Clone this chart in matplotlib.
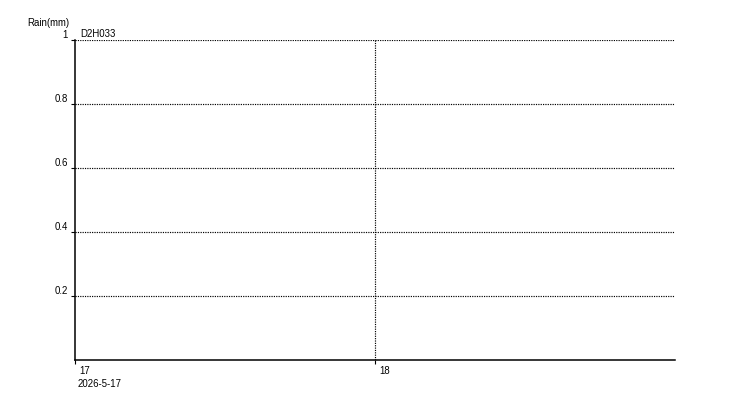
import matplotlib
matplotlib.use("Agg")
import matplotlib.pyplot as plt
import matplotlib.transforms as mtransforms

# Data
station = "D2H033"
y_label = "Rain(mm)"
date_label = "2026-5-17"
x_tick_hours = [0, 24]
x_tick_labels = ["17", "18"]
y_ticks = [0.2, 0.4, 0.6, 0.8, 1.0]
y_tick_labels = ["0.2", "0.4", "0.6", "0.8", "1"]
rain_hours = []
rain_values = []

plt.rcParams['font.family'] = ['Liberation Sans', 'DejaVu Sans']
fs = 6.9

fig = plt.figure(figsize=(7.5, 4.0), dpi=100)
ax = fig.add_axes([0.1, 0.1, 0.8, 0.8])
ax.bar(rain_hours, rain_values, width=1, color='#3060c0')

ax.set_xlim(0, 48)
ax.set_ylim(0, 1)
for s in ['top', 'right']:
    ax.spines[s].set_visible(False)
for s in ['left', 'bottom']:
    ax.spines[s].set_linewidth(1.1)
    ax.spines[s].set_color('black')

ax.set_yticks(y_ticks)
ax.set_yticklabels(y_tick_labels, fontsize=fs)
ax.set_xticks(x_tick_hours)
ax.set_xticklabels(x_tick_labels, fontsize=fs, ha='left')
ax.tick_params(axis='y', direction='out', length=3, width=0.8, pad=2)
ax.tick_params(axis='x', direction='out', length=3, width=0.8, pad=1.0)

# grid
for yv in y_ticks:
    ax.axhline(yv, color='black', lw=0.85, ls=(0, (1, 1)), zorder=0)
for xv in x_tick_hours[1:]:
    ax.axvline(xv, color='black', lw=0.85, ls=(0, (1, 1)), zorder=0)

# shift labels
up = mtransforms.ScaledTranslation(0, 6 / 100, fig.dpi_scale_trans)
for lbl in ax.get_yticklabels():
    lbl.set_transform(lbl.get_transform() + up)
right = mtransforms.ScaledTranslation(4 / 100, 0, fig.dpi_scale_trans)
for lbl in ax.get_xticklabels():
    lbl.set_transform(lbl.get_transform() + right)

ax.annotate(date_label, xy=(0, 0), xycoords='data', xytext=(1.5, -13.5),
            textcoords='offset points', fontsize=fs, ha='left', va='top')
ax.annotate(station, xy=(0, 1), xycoords='data', xytext=(3.6, 4.3),
            textcoords='offset points', fontsize=fs, ha='left', va='center')
ax.annotate(y_label, xy=(0, 1), xycoords='data', xytext=(-4.3, 12),
            textcoords='offset points', fontsize=fs, ha='right', va='center')

fig.savefig("out.png", dpi=100, facecolor='white')
